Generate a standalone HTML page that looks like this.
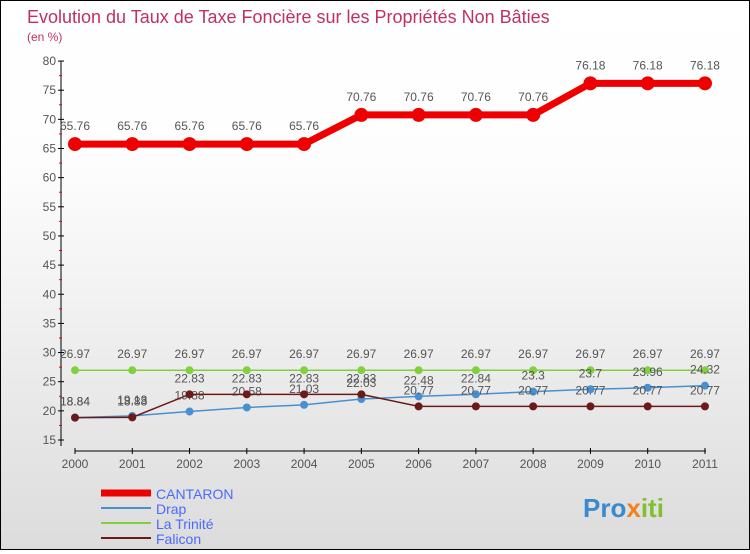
<!DOCTYPE html>
<html><head><meta charset="utf-8"><style>
body{margin:0}
#c{width:748px;height:548px;border:1px solid #000;background:linear-gradient(#fff,#fdfdfd 30%,#dcdcdc);position:relative;font-family:"Liberation Sans",sans-serif}
</style></head><body>
<div id="c">
<svg id="s" width="748" height="548"></svg>
</div>
<script>
const years=["2000","2001","2002","2003","2004","2005","2006","2007","2008","2009","2010","2011"];
const cantaron=[65.76,65.76,65.76,65.76,65.76,70.76,70.76,70.76,70.76,76.18,76.18,76.18];
const drap=[18.84,19.13,19.88,20.58,21.03,22.03,22.48,22.84,23.3,23.7,23.96,24.32];
const trinite=[26.97,26.97,26.97,26.97,26.97,26.97,26.97,26.97,26.97,26.97,26.97,26.97];
const falicon=[18.84,18.88,22.83,22.83,22.83,22.83,20.77,20.77,20.77,20.77,20.77,20.77];
const yTicks=[15,20,25,30,35,40,45,50,55,60,65,70,75,80];
const NS="http://www.w3.org/2000/svg";const s=document.getElementById('s');
const X=i=>74+i*57.27, Y=v=>439-(v-15)*5.83;
function el(t,a,p){const e=document.createElementNS(NS,t);for(const k in a)e.setAttribute(k,a[k]);(p||s).appendChild(e);return e;}
function tx(x,y,str,a){const e=el('text',Object.assign({x:x,y:y,'font-size':12,fill:'#555'},a||{}));e.textContent=str;return e;}
let t=tx(26,22,"Evolution du Taux de Taxe Foncière sur les Propriétés Non Bâties",{'font-size':18,fill:'#c03060'});

t=tx(26,40,"(en %)",{'font-size':12,fill:'#c03060'});

let ax=el('line',{x1:60,y1:60,x2:60,y2:445,stroke:'#000'});

yTicks.forEach(v=>{let l=el('line',{x1:57,x2:63,y1:Y(v),y2:Y(v),stroke:'#000'});
 let r=el('line',{x1:58,x2:61,y1:Y(v+2.5),y2:Y(v+2.5),stroke:'#e00'});if(v==80)r.remove();
 let lb=tx(55,Y(v)+4,String(v),{'text-anchor':'end'});});
ax=el('line',{x1:74,y1:450,x2:705,y2:450,stroke:'#000'});

years.forEach((y,i)=>{let l=el('line',{x1:X(i),x2:X(i),y1:447,y2:453,stroke:'#000'});
 let lb=tx(X(i),467,y,{'text-anchor':'middle'});});
function series(name,data,color,w,r,dec){
 const g=el('g',{});
 el('polyline',{points:data.map((v,i)=>X(i)+','+Y(v)).join(' '),fill:'none',stroke:color,'stroke-width':w},g);
 data.forEach((v,i)=>{let c=el('circle',{cx:X(i),cy:Y(v),r:r,fill:color},g);
  let lb=tx(X(i),Y(v)-(dec?12:14),String(v).replace('.',','),{'text-anchor':'middle','font-size':12,fill:'#555'});lb.textContent=String(v);g.appendChild(lb);});
}
series('trinite',trinite,'#80d040',1.5,4,1);
series('drap',drap,'#4a90d0',1.5,4,1);
series('falicon',falicon,'#6b1a1a',1.5,4,1);
series('cantaron',cantaron,'#ee0000',7,7,0);
const leg=[["CANTARON","#ee0000",7],["Drap","#4a90d0",2],["La Trinité","#80d040",2],["Falicon","#6b1a1a",2]];
leg.forEach((l,i)=>{const g=el('g',{});
 el('line',{x1:100,x2:150,y1:492+i*15,y2:492+i*15,stroke:l[1],'stroke-width':l[2]},g);
 const t=tx(155,498+i*15,l[0],{'font-size':14,fill:'#4a6aff'});g.appendChild(t);});
const lg=tx(582,516,"",{'font-size':26,'font-weight':'bold'});
[["Pro","#3a8ad0"],["x","#f08020"],["iti","#80c030"]].forEach(p=>{const ts=el('tspan',{fill:p[1]},lg);ts.textContent=p[0];});
</script>
</body></html>
